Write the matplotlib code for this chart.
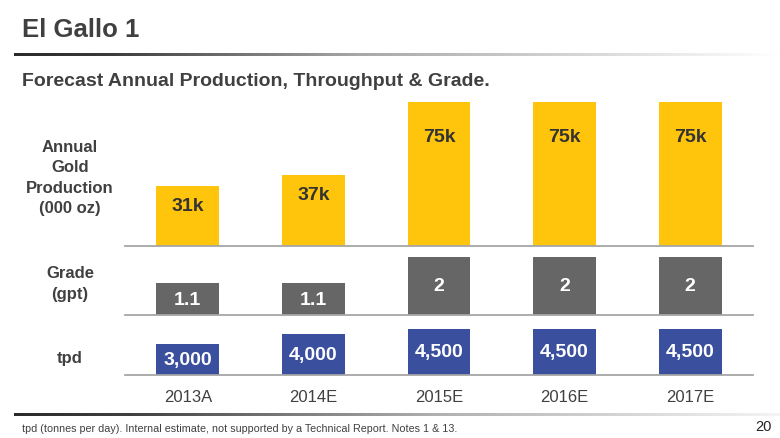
import numpy as np
import matplotlib
matplotlib.use("Agg")
import matplotlib.pyplot as plt
from matplotlib.colors import LinearSegmentedColormap

plt.rcParams['font.family'] = ['Liberation Sans', 'DejaVu Sans']

# ---- data ----
categories = ["2013A", "2014E", "2015E", "2016E", "2017E"]
gold_koz = [31, 37, 75, 75, 75]
gold_labels = ["31k", "37k", "75k", "75k", "75k"]
grade_gpt = [1.1, 1.1, 2, 2, 2]
grade_labels = ["1.1", "1.1", "2", "2", "2"]
tpd = [3000, 4000, 4500, 4500, 4500]
tpd_labels = ["3,000", "4,000", "4,500", "4,500", "4,500"]

title = "El Gallo 1"
subtitle = "Forecast Annual Production, Throughput & Grade."
row_labels = ["Annual\nGold\nProduction\n(000 oz)", "Grade\n(gpt)", "tpd"]
footnote = "tpd (tonnes per day). Internal estimate, not supported by a Technical Report. Notes 1 & 13."
page_no = "20"

# ---- style ----
W, H = 780, 439
GOLD = "#FFC40C"
GREY = "#666666"
BLUE = "#3A4F9D"
TXT = "#404040"
BASE = "#A6A6A6"
gold_label_offset_px = [19, 20, 34, 34, 34]

fig = plt.figure(figsize=(W / 100, H / 100), dpi=100)
fig.patch.set_facecolor("white")


def fx(px):
    return px / W


def fy(px):
    return 1 - px / H


# background axes in pixel coordinates for the gradient rules
bg = fig.add_axes([0, 0, 1, 1])
bg.set_xlim(0, W)
bg.set_ylim(H, 0)
bg.set_axis_off()
cmap_top = LinearSegmentedColormap.from_list(
    "rule_top", [(0, "#2a2a2a"), (0.12, "#3a3a3a"), (0.45, "#a8a8a8"), (1, "#ffffff")])
cmap_bot = LinearSegmentedColormap.from_list(
    "rule_bot", [(0, "#2a2a2a"), (0.15, "#404040"), (0.55, "#b0b0b0"), (1, "#f4f4f4")])
grad = np.linspace(0, 1, 256).reshape(1, -1)
bg.imshow(grad, aspect="auto", cmap=cmap_top, extent=[14, 780, 56.5, 53.5], interpolation="bilinear")
bg.imshow(grad, aspect="auto", cmap=cmap_bot, extent=[14, 780, 417.5, 414.5], interpolation="bilinear")
bg.set_xlim(0, W)
bg.set_ylim(H, 0)


def panel(bottom_px, height_px):
    ax = fig.add_axes([fx(125), fy(bottom_px), fx(753) - fx(125), height_px / H])
    ax.set_xlim(-0.5, 4.5)
    for s in ["top", "left", "right"]:
        ax.spines[s].set_visible(False)
    ax.spines["bottom"].set_color(BASE)
    ax.spines["bottom"].set_linewidth(1.3)
    ax.set_yticks([])
    ax.tick_params(axis="x", length=0)
    ax.set_facecolor("none")
    return ax


x = np.arange(len(categories))

ax1 = panel(247, 144)
ax1.set_ylim(0, 75)
ax1.bar(x, gold_koz, width=0.5, color=GOLD, zorder=2)
ax1.set_xticks([])
for xi, v, lab, off in zip(x, gold_koz, gold_labels, gold_label_offset_px):
    ax1.annotate(lab, (xi, v), xytext=(0, -off * 0.72), textcoords="offset points",
                 ha="center", va="center", fontsize=14, fontweight="bold", color="#333333")

ax2 = panel(316, 58)
ax2.set_ylim(0, 2)
ax2.bar(x, grade_gpt, width=0.5, color=GREY, zorder=2)
ax2.set_xticks([])
for xi, v, lab in zip(x, grade_gpt, grade_labels):
    ax2.text(xi, v / 2, lab, ha="center", va="center", fontsize=14,
             fontweight="bold", color="white")

ax3 = panel(376, 46)
ax3.set_ylim(0, 4500)
ax3.bar(x, tpd, width=0.5, color=BLUE, zorder=2)
ax3.set_xticks(x)
ax3.set_xticklabels(categories, fontsize=12, color=TXT)
ax3.tick_params(axis="x", pad=10)
for xi, v, lab in zip(x, tpd, tpd_labels):
    ax3.text(xi, v / 2, lab, ha="center", va="center", fontsize=14,
             fontweight="bold", color="white")

# row labels
fig.text(fx(70), fy(178), row_labels[0], ha="center", va="center", fontsize=12,
         fontweight="bold", color=TXT, linespacing=1.42)
fig.text(fx(70), fy(284), row_labels[1], ha="center", va="center", fontsize=12,
         fontweight="bold", color=TXT, linespacing=1.45)
fig.text(fx(70), fy(359), row_labels[2], ha="center", va="center", fontsize=12,
         fontweight="bold", color=TXT)

# titles
fig.text(fx(22), fy(30), title, ha="left", va="center", fontsize=18.5,
         fontweight="bold", color=TXT)
fig.text(fx(22), fy(82), subtitle, ha="left", va="center", fontsize=14,
         fontweight="bold", color=TXT)

# footer
fig.text(fx(22), fy(429), footnote, ha="left", va="center", fontsize=7.75, color=TXT)
fig.text(fx(772), fy(427), page_no, ha="right", va="center", fontsize=10.5, color="#222222")

fig.savefig("out.png", dpi=100, facecolor="white")
